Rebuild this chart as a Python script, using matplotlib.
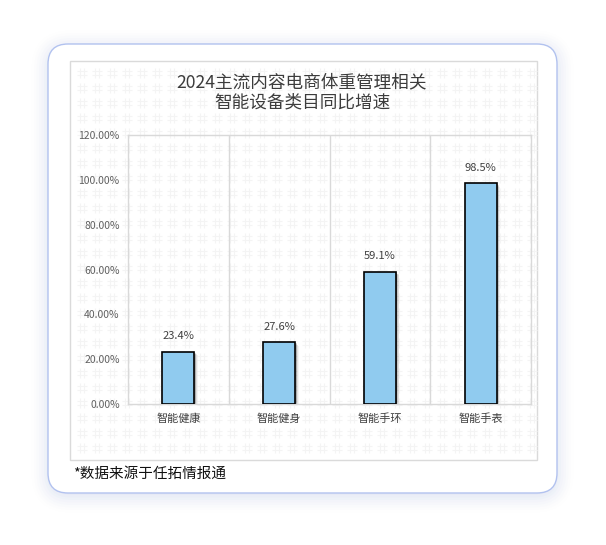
import matplotlib.pyplot as plt
from matplotlib.patches import FancyBboxPatch, Rectangle
from matplotlib.collections import LineCollection
import numpy as np

plt.rcParams['font.family'] = ['Noto Sans CJK SC', 'DejaVu Sans']

# 数据
categories = ['智能健康', '智能健身', '智能手环', '智能手表']
growth = [23.4, 27.6, 59.1, 98.5]
yticks = [0, 20, 40, 60, 80, 100, 120]
title = '2024主流内容电商体重管理相关\n智能设备类目同比增速'
note = '*数据来源于任拓情报通'

W, H = 606, 545
fig = plt.figure(figsize=(W / 100, H / 100), dpi=100)
fig.patch.set_facecolor('white')

# 背景层 (像素坐标)
bg = fig.add_axes([0, 0, 1, 1])
bg.set_xlim(0, W)
bg.set_ylim(H, 0)
bg.axis('off')

# 卡片阴影
for i, a in enumerate(np.linspace(0.10, 0.015, 8)):
    d = 2 + i * 2.5
    sh = FancyBboxPatch((48 - d + 3, 44 - d + 6), 509 + 2 * d - 6, 449 + 2 * d - 6,
                        boxstyle='round,pad=0,rounding_size=%f' % (20 + d),
                        fc='#c8d2f0', ec='none', alpha=a, zorder=0)
    bg.add_patch(sh)

card = FancyBboxPatch((48, 44), 509, 449, boxstyle='round,pad=0,rounding_size=20',
                      fc='white', ec='#b2c2ef', lw=1.0, zorder=1)
bg.add_patch(card)

# 内框
box = Rectangle((69.5, 60.5), 467, 399.5, fc='white', ec='#dadada', lw=1.0, zorder=2)
bg.add_patch(box)

# 底纹 "井" 图案
segs = []
for cx in np.arange(82, 536, 15):
    for cy in np.arange(73, 460, 15):
        h = 5
        g = 1.8
        segs.append([(cx - g, cy - h), (cx - g, cy + h)])
        segs.append([(cx + g, cy - h), (cx + g, cy + h)])
        segs.append([(cx - h, cy - g), (cx + h, cy - g)])
        segs.append([(cx - h, cy + g), (cx + h, cy + g)])
bg.add_collection(LineCollection(segs, colors='#f4f4f4', linewidths=0.8, zorder=3))

# 主图
ax = fig.add_axes([128 / W, 1 - 404 / H, 403 / W, 269 / H])
ax.set_facecolor('none')
x = np.arange(len(categories))
bw = 0.32

# 柱子阴影
for k in range(5):
    off = 0.6 + k * 0.7
    ax.bar(x + off * (4 / 403), growth, width=bw, bottom=-off * 120 / 269,
           color='#000000', alpha=0.16 - k * 0.028, zorder=2, lw=0)
bars = ax.bar(x, growth, width=bw, color='#90cbef', edgecolor='black', lw=1.2, zorder=3)

for xi, v in zip(x, growth):
    ax.text(xi, v + 4.5, f'{v:.1f}%', ha='center', va='bottom', fontsize=8, color='#404040')

ax.set_xlim(-0.5, len(categories) - 0.5)
ax.set_ylim(0, 120)
ax.set_yticks(yticks)
ax.set_yticklabels([f'{t:.2f}%' for t in yticks], fontsize=7.5, color='#606060')
ax.set_xticks(x)
ax.set_xticklabels(categories, fontsize=8, color='#404040')
ax.set_xticks(np.arange(0.5, len(categories) - 0.5, 1), minor=True)
ax.grid(axis='x', which='minor', color='#d9d9d9', lw=1.0)
ax.tick_params(which='both', length=0)
ax.tick_params(axis='y', pad=6)
ax.tick_params(axis='x', pad=7)
for s in ax.spines.values():
    s.set_color('#d9d9d9')
    s.set_linewidth(1.0)

fig.text(302 / W, 1 - 92 / H, title, ha='center', va='center', fontsize=12.7,
         color='#3c3c3c', linespacing=1.15)
fig.text(73 / W, 1 - 474 / H, note, ha='left', va='center', fontsize=10.5,
         color='#111111', weight='medium')

fig.savefig('out.png', dpi=100)
